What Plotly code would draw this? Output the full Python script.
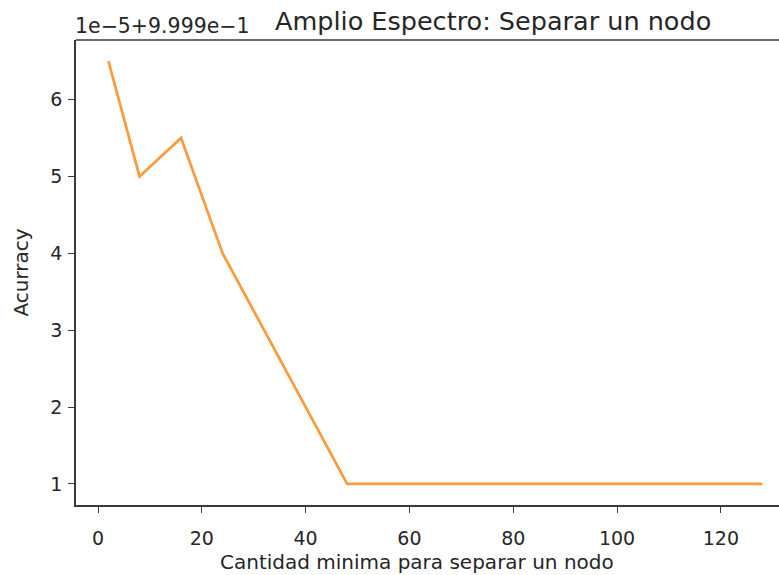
import plotly.graph_objects as go

# min_samples_split values and the resulting accuracy
min_split = [2, 8, 16, 24, 48, 128]
accuracy = [0.999965, 0.99995, 0.999955, 0.99994, 0.99991, 0.99991]

# y ticks are shown relative to the offset 1e-5 + 9.999e-1
offset = 0.9999
scale = 1e-5
ytick_units = [1, 2, 3, 4, 5, 6]
xtick_vals = [0, 20, 40, 60, 80, 100, 120]

font_family = "DejaVu Sans"
text_color = "#262626"
axis_color = "#3a3a3a"

plot_left, plot_right = 76, 779
plot_w = plot_right - plot_left

fig = go.Figure()
fig.add_trace(go.Scatter(
    x=min_split, y=accuracy, mode="lines",
    line=dict(color="#fd9a3c", width=2.7),
    hoverinfo="x+y", showlegend=False,
))

fig.update_layout(
    width=779, height=575,
    margin=dict(l=plot_left, r=779 - plot_right, t=40, b=70),
    paper_bgcolor="white", plot_bgcolor="white",
    font=dict(family=font_family, color=text_color, size=19),
    xaxis=dict(
        range=[-4.24, 131.2],
        tickvals=xtick_vals,
        ticks="outside", ticklen=6, tickwidth=1.3, tickcolor=axis_color,
        showline=True, linecolor=axis_color, linewidth=1.5,
        showgrid=False, zeroline=False,
        tickfont=dict(size=19, color=text_color),
        ticklabelstandoff=9,
    ),
    yaxis=dict(
        range=[offset + 0.725 * scale, offset + 6.775 * scale],
        tickvals=[offset + v * scale for v in ytick_units],
        ticktext=[str(v) for v in ytick_units],
        ticks="outside", ticklen=6, tickwidth=1.3, tickcolor=axis_color,
        showline=True, linecolor=axis_color, linewidth=1.5,
        showgrid=False, zeroline=False,
        tickfont=dict(size=19, color=text_color),
        ticklabelstandoff=2,
        title=dict(text="Acurracy", font=dict(size=20, color=text_color), standoff=16),
    ),
    shapes=[dict(type="line", xref="paper", yref="paper", x0=0, x1=1, y0=1, y1=1,
                 line=dict(color=axis_color, width=1.5))],
    annotations=[
        dict(text="1e\u22125+9.999e\u22121", xref="paper", yref="paper",
             x=0, y=1, xanchor="left", yanchor="bottom", yshift=0, xshift=-3,
             showarrow=False, font=dict(size=20.5, color=text_color)),
        dict(text="Amplio Espectro: Separar un nodo", xref="paper", yref="paper",
             x=(493 - plot_left) / plot_w, y=1, xanchor="center", yanchor="bottom",
             yshift=2, showarrow=False, font=dict(size=25.5, color=text_color)),
        dict(text="Cantidad minima para separar un nodo", xref="paper", yref="paper",
             x=(417 - plot_left) / plot_w, y=0, xanchor="center", yanchor="middle",
             yshift=-(562 - 505), showarrow=False, font=dict(size=20, color=text_color)),
    ],
)

fig.write_html("out.html")
